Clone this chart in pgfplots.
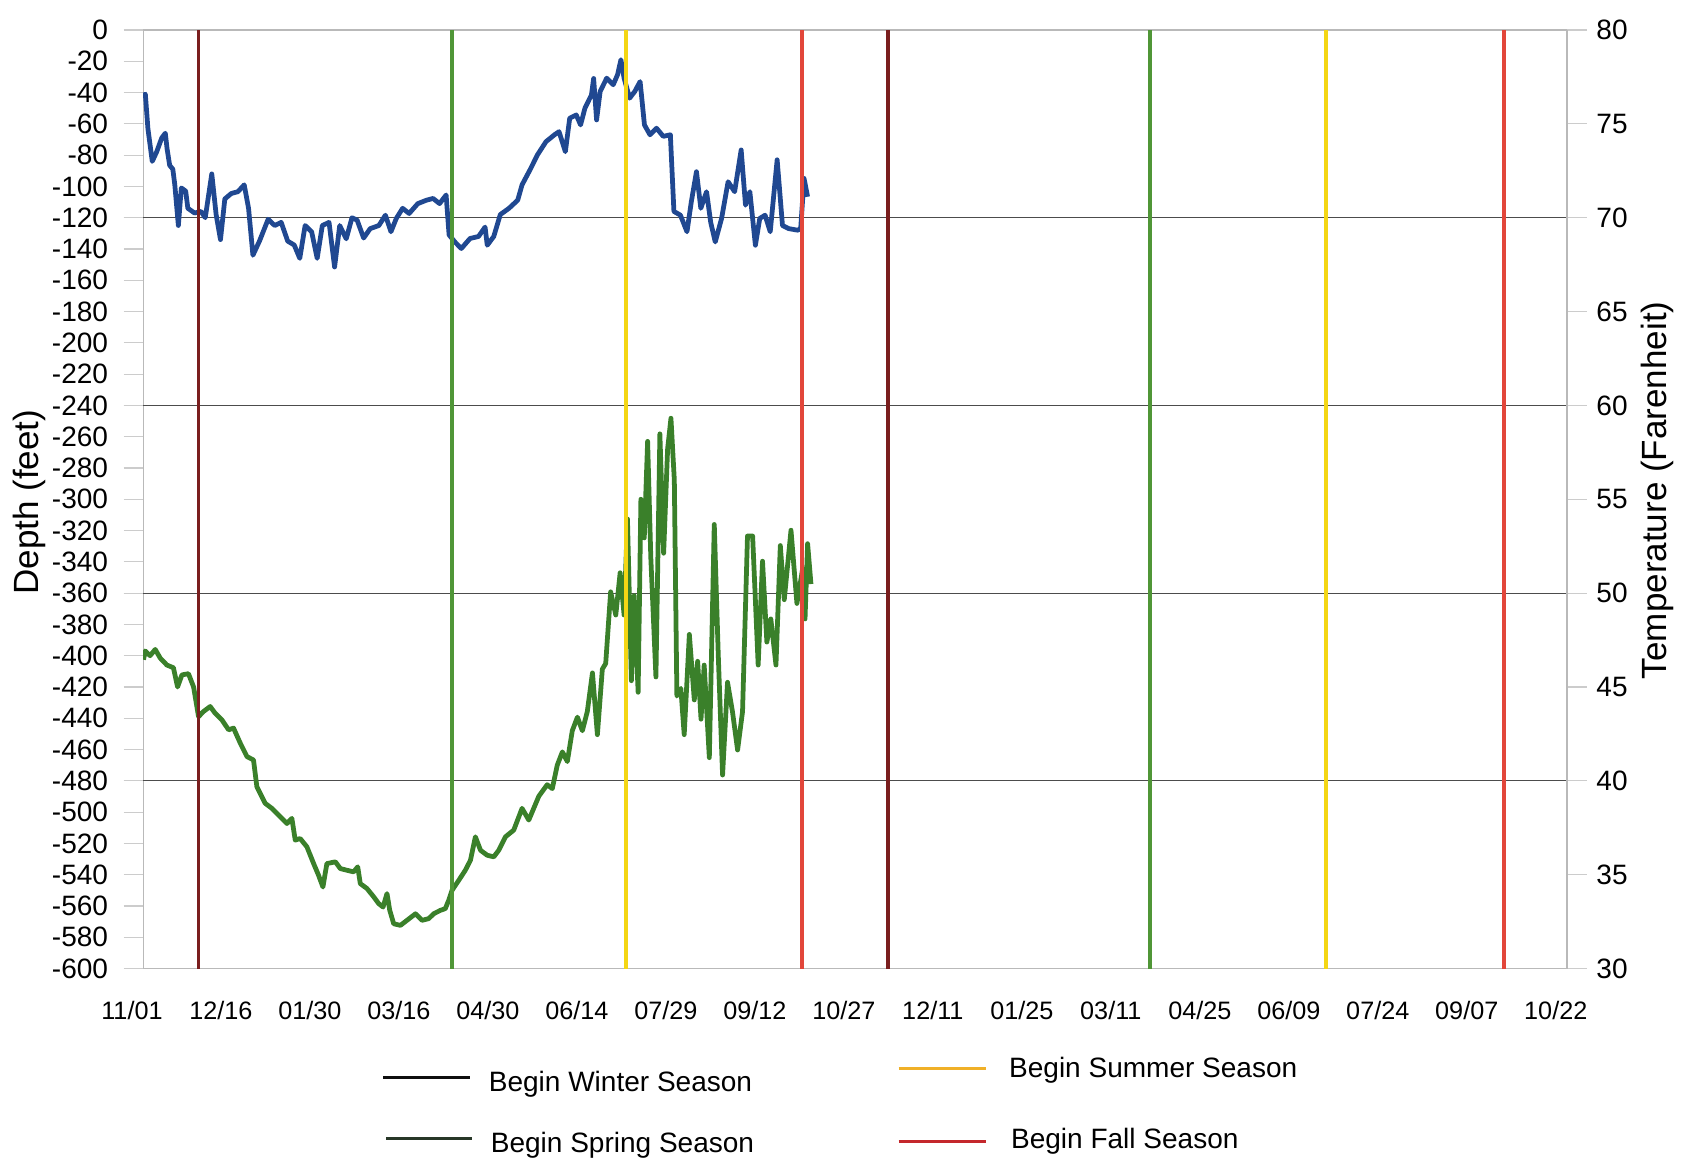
\documentclass[border=0pt]{standalone}
\usepackage{fontspec}
\setmainfont{Liberation Sans}
\usepackage{pgfplots}
\pgfplotsset{compat=1.18}
\usepackage{pgfplotstable}

\definecolor{blueline}{RGB}{32,72,145}
\definecolor{greenline}{RGB}{58,128,42}
\definecolor{winterc}{RGB}{122,30,30}
\definecolor{springc}{RGB}{80,150,55}
\definecolor{summerc}{RGB}{244,214,20}
\definecolor{fallc}{RGB}{226,70,58}
\definecolor{legwinter}{RGB}{15,15,15}
\definecolor{legspring}{RGB}{40,55,40}
\definecolor{legsummer}{RGB}{240,176,40}
\definecolor{legfall}{RGB}{196,40,44}

\pgfplotstableread{
day depth
0 -42
1.1 -41
2.4 -63
4.6 -84
6.8 -78
9.4 -69
11.2 -66
12.1 -76
13.4 -86.5
15 -89
16 -99
17.8 -125
19.3 -101
21.5 -103
22.6 -114
26 -117
29.2 -116
31.4 -120
34.7 -92
36.9 -118
39.1 -134
41.3 -108
44.6 -104.5
47.9 -103.4
51.1 -99
53.3 -114
55.5 -144
58.8 -135
63.2 -121
66.5 -125
69.8 -123
73.1 -135
76.4 -137.5
79.2 -146
81.9 -125
85.2 -129
88 -146
90.6 -125
94 -123
96.8 -151.5
99.4 -125
102.7 -133.5
105.6 -120
108.2 -121.6
111.5 -133
114.8 -127
119.2 -125
122.5 -118.4
125.3 -129
128 -120.5
131.2 -114
134.5 -117.3
138.9 -111
143.3 -108.8
146.6 -107.7
149.9 -111
153.2 -105.5
154.7 -131
157.6 -135.5
160.9 -139.7
165.3 -133.3
169.6 -132
172.9 -126
174 -137.6
177.3 -132
180.6 -118
185 -114
189.4 -108.8
191.6 -99
196 -88.5
199.3 -80
203.7 -71.4
208 -67
210.3 -65
213.5 -77.8
215.7 -56.4
219 -54.3
221.2 -60.7
223.4 -50
226.7 -41.5
227.8 -31
229.3 -57.5
231.1 -39.3
234.4 -30.8
237.7 -35
239.9 -28.6
241.6 -19
243.2 -30.8
246 -43.6
248.6 -39.3
251.3 -33
253.5 -60.7
256.3 -67
259.6 -62.8
263 -68
266.6 -67
268.4 -116
271.7 -118.4
275 -129
277.2 -109.8
279.8 -90.6
282 -114
284.9 -103.4
287 -123
289.3 -135.5
292.5 -120.5
295.8 -97
299.1 -103.4
302.4 -76.7
304.6 -112
306.8 -103.4
309.6 -137.6
311.8 -120.5
314.5 -118.4
317.1 -129
320.6 -83
323.3 -125
326.5 -127
331 -128
332.5 -127
334.2 -94.9
336 -106.6
}\bluedata

\pgfplotstableread{
day depth
0.2 -402.6
1 -397
3.5 -400
6.1 -396
8.6 -401.5
12 -406
15.3 -407.7
17.4 -420
19.6 -412.3
22.9 -411.5
25.5 -420
28 -439
30.5 -435.7
33.9 -432.5
36.4 -436.8
39.8 -441
43.2 -447.4
45.7 -446.3
49.1 -455.9
52.5 -464.5
55.8 -466.7
57.5 -483.8
61.7 -494.4
65.1 -497.6
69.3 -503
72.7 -507.3
75.2 -504
76.9 -517.9
79.4 -516.9
82.8 -522.2
86.2 -532.9
88.7 -540.4
90.9 -547.9
92.9 -532.9
97.2 -531.8
99.7 -536.1
103.1 -537.2
106.4 -538.2
108.5 -535
109.8 -545.7
113.2 -548.9
116.6 -554.2
119.1 -558.5
121.3 -560.7
123.3 -552.1
124.7 -562.8
126.7 -571.4
130.1 -572.4
133.4 -569.2
137.7 -565
141 -569.2
144.4 -568.1
146.9 -565
150.3 -562.8
152.8 -561.7
154.5 -556.4
156.2 -550
159.6 -543.6
162.9 -537.2
165.5 -530.8
168 -515.8
170.6 -524.4
174 -527.6
177.3 -528.6
179.8 -524.4
183.2 -515.8
187.4 -511.5
191.6 -497.6
195 -505.1
200.1 -489.8
204.3 -482.5
206.9 -485
209.4 -470
212 -461.5
214.5 -467.7
217 -448
219.6 -439.3
222.1 -448
224.6 -435.7
227.2 -411
229.7 -450.5
232.2 -408.6
233.9 -405
236.4 -359.2
239 -374
241.2 -347
243.2 -374
244.9 -312.6
246.9 -416
248.3 -361.6
250.3 -423.4
251.7 -300
253.4 -324.7
255.1 -263
256.7 -337
259.3 -413.6
261.3 -258.2
263.2 -334.5
265.2 -268
266.9 -248.2
268.6 -287.7
269.9 -425.8
271.9 -420.9
273.6 -450.5
276.2 -386.4
278.7 -428.3
280.4 -403.6
282.1 -440.6
283.7 -406
286.3 -465.2
288.8 -316.1
290.8 -398.7
293 -476.3
295.5 -417
298 -435.7
300.6 -460.3
303.1 -435.7
305.6 -323.5
308.2 -323.5
311 -406
313.2 -339.6
315.4 -391.3
317.4 -376.5
320 -406
322.2 -329.6
324.2 -364.2
327.6 -319.8
330.6 -366.6
333.5 -344.4
334.7 -376.5
336 -328.4
337.7 -354.2
}\greendata

\begin{document}
\begin{tikzpicture}[x=1pt,y=1pt]
\begin{axis}[
  at={(51.1pt,68.7pt)}, anchor=south west,
  scale only axis, width=508.2pt, height=335pt,
  xmin=0, xmax=720, ymin=-600, ymax=0,
  xtick={0,45,...,720},
  xticklabels={11/01,12/16,01/30,03/16,04/30,06/14,07/29,09/12,10/27,12/11,01/25,03/11,04/25,06/09,07/24,09/07,10/22},
  ytick={-600,-580,...,0},
  ytick pos=left, xtick pos=bottom,
  x tick style={draw=none},
  y tick style={draw=gray!40, thin},
  major tick length=7pt,
  tick align=outside,
  axis line style={draw=gray!55, thin},
  extra y ticks={-120,-240,-360,-480},
  extra y tick labels={},
  extra y tick style={grid=major, major grid style={draw=gray!60!black, thin}},
  yticklabel style={font=\fontsize{10}{12}\selectfont, xshift=-2pt},
  xticklabel style={font=\fontsize{9}{11}\selectfont, xshift=-4pt, yshift=-1pt},
  /pgf/number format/assume math mode=true,
  ylabel={Depth (feet)},
  ylabel style={font=\fontsize{12.5}{15}\selectfont, at={(axis description cs:-0.0801,0.497)}, anchor=center},
]
\addplot[greenline, line width=1.7pt, line join=round] table[x=day,y=depth] {\greendata};
\addplot[blueline, line width=1.7pt, line join=round] table[x=day,y=depth] {\bluedata};
\addplot[winterc, line width=1.4pt] coordinates {(28,-600) (28,0)};
\addplot[winterc, line width=1.4pt] coordinates {(376.5,-600) (376.5,0)};
\addplot[springc, line width=1.4pt] coordinates {(156,-600) (156,0)};
\addplot[springc, line width=1.4pt] coordinates {(509,-600) (509,0)};
\addplot[summerc, line width=1.4pt] coordinates {(244,-600) (244,0)};
\addplot[summerc, line width=1.4pt] coordinates {(598,-600) (598,0)};
\addplot[fallc, line width=1.4pt] coordinates {(333,-600) (333,0)};
\addplot[fallc, line width=1.4pt] coordinates {(688,-600) (688,0)};
\end{axis}
\begin{axis}[
  at={(51.1pt,68.7pt)}, anchor=south west,
  scale only axis, width=508.2pt, height=335pt,
  xmin=0, xmax=720, ymin=30, ymax=80,
  ytick={30,35,...,80},
  axis x line=none, axis y line*=right,
  axis line style={draw=gray!55, thin, -},
  y tick style={draw=gray!40, thin},
  major tick length=7pt,
  tick align=outside,
  yticklabel style={font=\fontsize{10}{12}\selectfont},
  /pgf/number format/assume math mode=true,
  ylabel={Temperature (Farenheit)},
  ylabel style={font=\fontsize{12.5}{15}\selectfont, at={(axis description cs:1.0632,0.5096)}, anchor=center},
]
\addplot[draw=none] coordinates {(0,30) (720,80)};
\end{axis}
% legend
\draw[legwinter, line width=1.1pt] (136.8,29.8) -- (167.9,29.8);
\node[anchor=west, inner sep=0pt, font=\fontsize{10}{12}\selectfont] at (174.3,27.3) {Begin Winter Season};
\draw[legspring, line width=1.1pt] (137.9,8.0) -- (168.6,8.0);
\node[anchor=west, inner sep=0pt, font=\fontsize{10}{12}\selectfont] at (175.0,5.5) {Begin Spring Season};
\draw[legsummer, line width=1.1pt] (320.7,33.0) -- (352.1,33.0);
\node[anchor=west, inner sep=0pt, font=\fontsize{10}{12}\selectfont] at (360.0,32.3) {Begin Summer Season};
\draw[legfall, line width=1.1pt] (320.7,6.9) -- (352.1,6.9);
\node[anchor=west, inner sep=0pt, font=\fontsize{10}{12}\selectfont] at (360.7,6.9) {Begin Fall Season};
\pgfresetboundingbox
\path[use as bounding box] (0,0) rectangle (600,414.4);
\end{tikzpicture}
\end{document}
